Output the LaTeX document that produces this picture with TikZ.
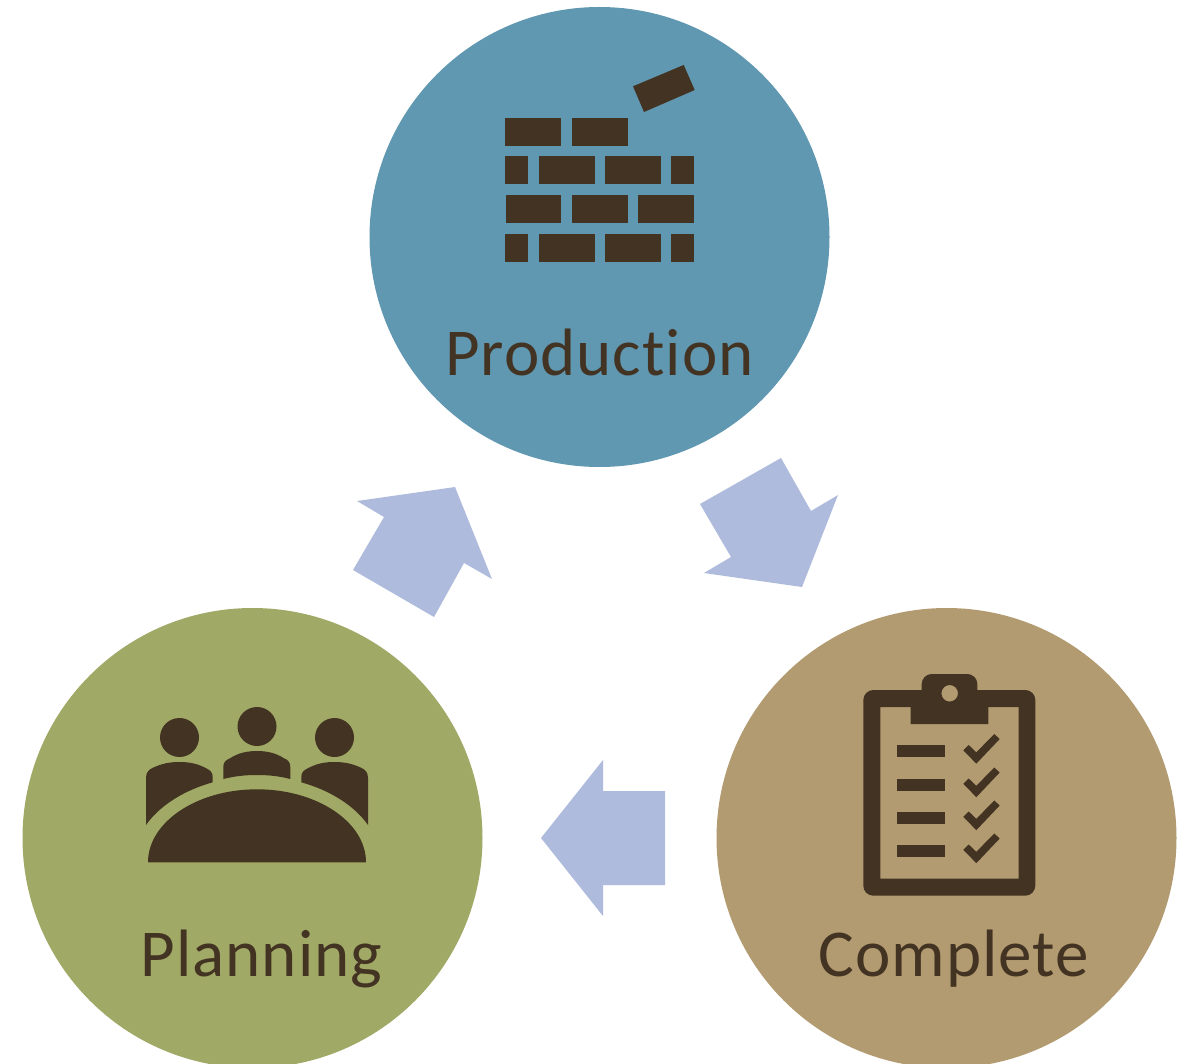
\documentclass[tikz,border=0pt]{standalone}
\usepackage{fontspec}
\setmainfont[Ligatures=NoCommon,LetterSpace=1.5]{Carlito}
\definecolor{prodblue}{HTML}{6097B1}
\definecolor{plangreen}{HTML}{A0A966}
\definecolor{comptan}{HTML}{B39B71}
\definecolor{iconbrown}{HTML}{433322}
\definecolor{arrowblue}{HTML}{AEBBDC}
\tikzset{
  phase/.style={fill=#1,draw=none},
  icon/.style={fill=iconbrown,draw=none},
  flow/.style={fill=arrowblue,draw=none},
  phaselabel/.style={text=iconbrown,anchor=base,inner sep=0pt,font=\fontsize{67}{67}\selectfont}
}
\begin{document}
\begin{tikzpicture}[x=1pt,y=-1pt]
\useasboundingbox (0,0) rectangle (1186,1064);
\clip (0,0) rectangle (1186,1064);
\fill[white] (0,0) rectangle (1186,1064);
% circles
\fill[phase=prodblue] (599.5,237) circle[radius=230];
\fill[phase=plangreen] (252.5,838) circle[radius=230];
\fill[phase=comptan] (946.5,838) circle[radius=230];
% flow arrows
\fill[flow] (781,458) -- (811,511) -- (838,495) -- (802,587) -- (704,573) -- (731,557) -- (700,504) -- cycle;
\fill[flow] (665,791) -- (603,791) -- (603,760) -- (541,838) -- (603,916) -- (603,885) -- (665,885) -- cycle;
\fill[flow] (434,617) -- (464,563) -- (492,579) -- (455,487) -- (357,501) -- (384,517) -- (353,570) -- cycle;
% bricks
\foreach \a/\b/\c/\d in {505/561/118/146,572/628/118/146,
  505/528/156/184,539/595/156/184,605/661/156/184,671/694/156/184,
  505.5/561/195/223,572/628/195/223,638/694/195/223,
  505/528/234/262,539/595/234/262,605/661/234/262,671/694/234/262}
  \fill[icon] (\a,\c) rectangle (\b,\d);
\fill[icon] (633,86.3) -- (683.7,65) -- (694.7,90) -- (644,112) -- cycle;
% people
\foreach \cx/\cy in {179.5/737.5,257/726.5,334.5/737.5}
  \fill[icon] (\cx,\cy) circle[radius=19.5];
\fill[icon] (148,862.3) .. controls (148,822) and (197,789.3) .. (257,789.3)
  .. controls (317,789.3) and (366,822) .. (366,862.3) -- cycle;
\fill[icon] (146,825) -- (146,778) .. controls (146,772) and (149,769.5) .. (153,767.7)
  .. controls (162,763.5) and (170,762) .. (179.5,762)
  .. controls (189,762) and (197,763.5) .. (205,767.7)
  .. controls (210,770) and (212.7,772) .. (212.7,777) -- (212.7,782.3)
  .. controls (185,790) and (160,805) .. (146,825) -- cycle;
\fill[icon] (368,825) -- (368,778) .. controls (368,772) and (365,769.5) .. (361,767.7)
  .. controls (352,763.5) and (344,762) .. (334.5,762)
  .. controls (325,762) and (317,763.5) .. (309,767.7)
  .. controls (304,770) and (301.3,772) .. (301.3,777) -- (301.3,782.3)
  .. controls (329,790) and (354,805) .. (368,825) -- cycle;
\fill[icon] (223.3,779) -- (223.3,767) .. controls (223.3,762) and (226,760) .. (230,758.3)
  .. controls (238,753) and (247,751) .. (257,751)
  .. controls (267,751) and (276,753) .. (284,758.3)
  .. controls (288,760) and (290.3,762) .. (290.3,767) -- (290.3,779)
  .. controls (279,776) and (268,775) .. (257,775)
  .. controls (246,775) and (235,776) .. (223.3,779) -- cycle;
% clipboard
\fill[icon,even odd rule]
  (873.3,690) -- (921.7,690) -- (921.7,684)
  .. controls (921.7,678.5) and (926.2,674) .. (931.7,674) -- (967.3,674)
  .. controls (972.8,674) and (977.3,678.5) .. (977.3,684) -- (977.3,690)
  -- (1025.3,690) .. controls (1030.8,690) and (1035.3,694.5) .. (1035.3,700)
  -- (1035.3,885.7) .. controls (1035.3,891.2) and (1030.8,895.7) .. (1025.3,895.7)
  -- (873.3,895.7) .. controls (867.8,895.7) and (863.3,891.2) .. (863.3,885.7)
  -- (863.3,700) .. controls (863.3,694.5) and (867.8,690) .. (873.3,690) -- cycle
  (880.3,707) -- (910.7,707) -- (910.7,724) -- (988.3,724) -- (988.3,707) -- (1018.7,707) -- (1018.7,878.7) -- (880.3,878.7) -- cycle
  (949.7,693.3) circle[radius=8.3];
\foreach \dy in {0,33.5,66.5,99.5}{
  \fill[icon] (897,745+\dy) rectangle (945,757+\dy);
  \fill[icon] (994.3,734+\dy) -- (999.7,739+\dy) -- (976.3,763.7+\dy) -- (963.3,750.3+\dy) -- (968.7,745+\dy) -- (976.3,752.3+\dy) -- cycle;
}
% labels
\node[phaselabel] (production) at (599.5,376) {Production};
\node[phaselabel] (planning) at (261.5,976) {Planning};
\node[phaselabel] (complete) at (954,976) {Complete};
\end{tikzpicture}
\end{document}
